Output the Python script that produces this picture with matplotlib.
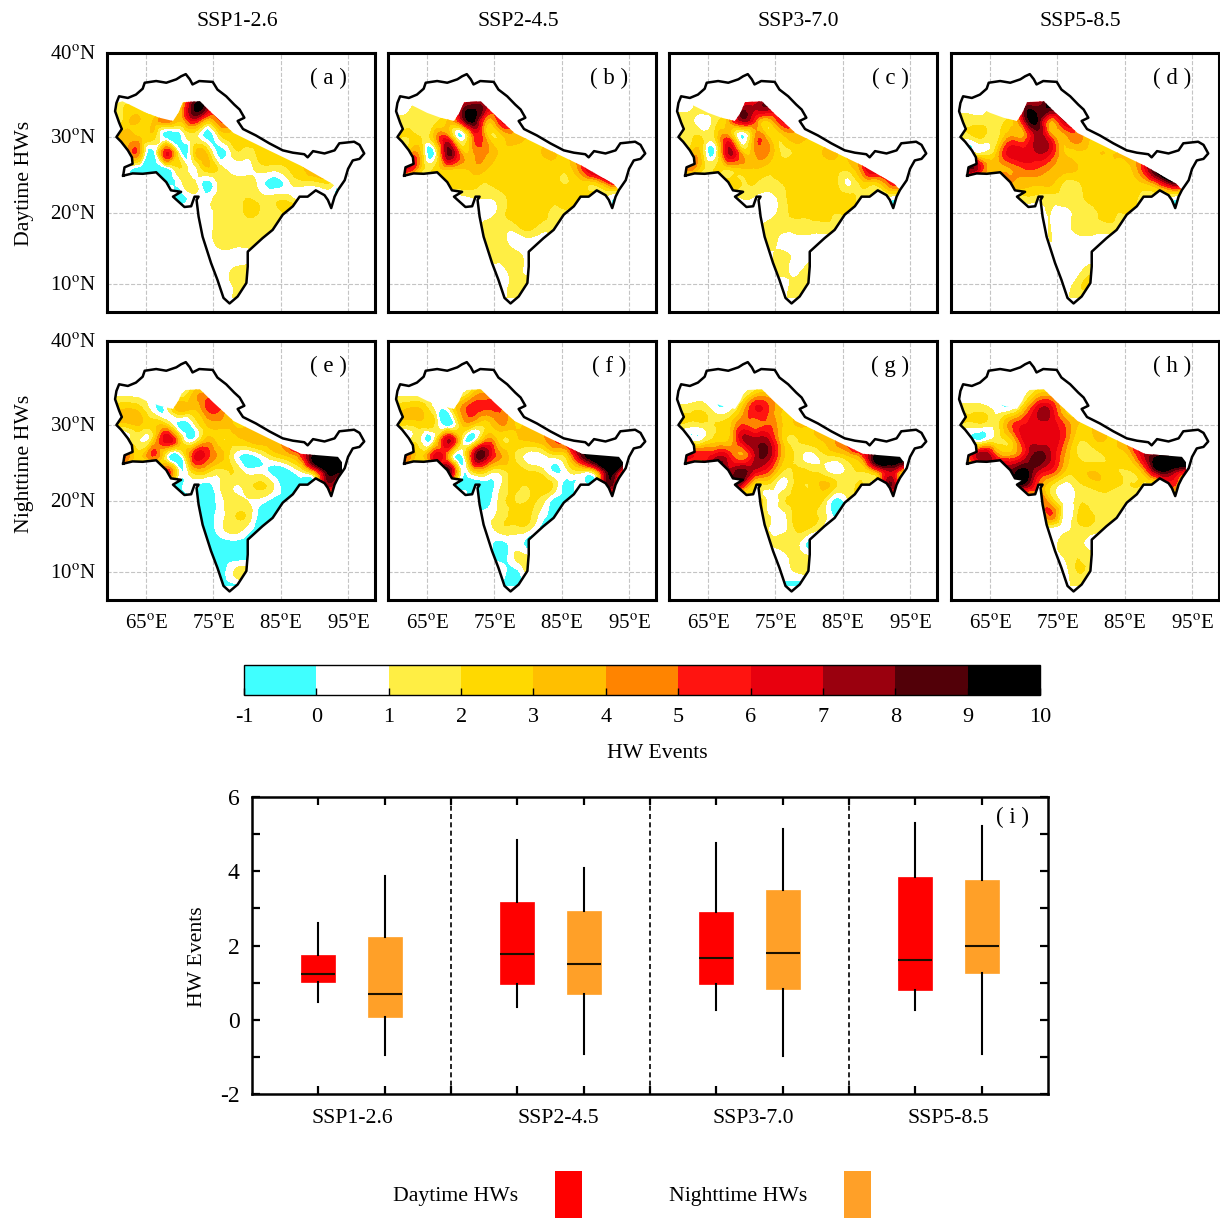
import numpy as np
import matplotlib
matplotlib.use("Agg")
import matplotlib.pyplot as plt
import matplotlib.tri as mtri
from matplotlib.colors import ListedColormap, BoundaryNorm
from matplotlib.cm import ScalarMappable
from matplotlib.patches import Polygon, Rectangle

plt.rcParams['font.family'] = 'Liberation Serif'
plt.rcParams['mathtext.fontset'] = 'stix'
plt.rcParams['axes.unicode_minus'] = False

W = 1220
H = 1218

scenarios = ["SSP1-2.6", "SSP2-4.5", "SSP3-7.0", "SSP5-8.5"]
letters = ["a", "b", "c", "d", "e", "f", "g", "h"]
level_colors = ["#40FFFF", "#FFFFFF", "#FFEE44", "#FFD900", "#FFBF00", "#FF8400",
                "#FF1410", "#E8000E", "#9A000E", "#520008", "#000000"]
levels = [-1, 0, 1, 2, 3, 4, 5, 6, 7, 8, 9, 10]

# region outline
outline_lon = [61.6, 61.8, 63.0, 62.9, 62.3, 61.3, 60.6, 61.4, 61.0, 60.4, 60.6, 61.0, 62.3, 63.5, 64.5, 64.8,
               66.5, 68.0, 69.5, 70.2, 70.9, 71.5, 71.9, 72.9, 74.9, 75.6, 76.9, 78.1, 78.9, 79.6, 78.6, 79.4,
               81.3, 83.3, 85.3, 86.8, 88.5, 89.0, 89.8, 91.5, 93.0, 93.7, 95.9, 96.7, 97.4, 96.7, 95.7, 95.0,
               94.5, 93.5, 93.0, 92.5, 92.0, 91.5, 90.2, 89.0, 87.8, 86.8, 85.3, 83.8, 82.3, 80.1, 80.1, 79.9,
               78.6, 77.4, 76.5, 75.6, 74.65, 73.4, 72.8, 72.5, 72.8, 72.2, 71.7, 70.7, 69.0, 70.2, 68.7, 68.0,
               66.5, 64.5, 63.0, 61.6]
outline_lat = [25.0, 26.1, 26.55, 27.4, 28.3, 29.4, 30.0, 31.0, 31.8, 33.2, 34.2, 35.0, 34.8, 35.2, 35.9, 36.6,
               36.8, 36.6, 37.0, 37.35, 37.6, 37.0, 36.4, 36.8, 36.7, 35.8, 35.0, 34.0, 33.4, 32.4, 32.0, 31.0,
               30.2, 29.2, 28.3, 28.0, 27.8, 27.4, 28.2, 27.9, 28.3, 29.2, 29.4, 29.0, 27.9, 27.2, 27.0, 25.9,
               24.4, 23.1, 22.2, 20.65, 21.75, 22.4, 23.05, 22.2, 22.2, 20.9, 19.75, 17.65, 16.5, 14.6, 12.5, 10.15,
               8.2, 7.2, 8.0, 10.6, 13.0, 16.7, 19.5, 21.75, 22.2, 22.2, 20.9, 20.8, 22.2, 22.85, 23.05, 24.15,
               25.45, 25.25, 25.3, 25.0]

# north limit of the coloured area
edge_day_lon = [60.6, 61.5, 63.3, 65, 67, 69, 69.8, 70.5, 73, 75, 78, 83, 88, 92.7, 93.5]
edge_day_lat = [34.2, 34.4, 33.7, 33, 32.4, 32, 33, 34.3, 34.4, 32.8, 30.5, 28.4, 26.3, 23.9, 23.1]
edge_night_lon = [60.6, 61.5, 63.3, 65, 67, 69, 69.8, 70.5, 73, 75, 78, 83, 88, 93.5, 94.6, 93.5]
edge_night_lat = [34.2, 34.4, 33.7, 33, 32.4, 32, 33, 34.3, 34.4, 32.8, 30.5, 28.4, 26.3, 25.9, 24.6, 23.1]

# grid nodes of the maps, values below run north to south
grid_lon = [60, 62, 64, 66, 68, 70, 72, 74, 76, 78, 80, 82, 84, 86, 88, 90, 92, 94]
grid_lat = [36, 34, 32, 30, 28, 26, 24, 22, 20, 18, 16, 14, 12, 10, 8]
north = [.5, .5, .5, .5, .5, .5, .5, .5, .5, .5, .5, .5, .5, .5, .5, .5, .5, .5]

day_126 = [north,
    [.5, 2, 1.5, .5, .5, 2, 8.5, 8, 6, 6, .5, .5, .5, .5, .5, .5, .5, .5],
    [.5, 2.5, 3, 3, 4.5, 3, 6, 3, 5, 4, 3, 3, 3, .5, .5, .5, .5, .5],
    [3, 3.5, 3, 2.5, -.5, -.5, 1.5, -.5, 1.5, 2.5, 3, 3, 3, 3, .5, .5, .5, .5],
    [.5, 3, 4, -.5, 6, .5, 2, 2.8, -.5, 1.5, 1.5, 2.5, 2.5, 2.5, 2.5, .5, .5, .5],
    [.5, .5, -.5, -.5, -.3, 2, .5, 2.8, 1.5, .5, .5, 1.5, 1.5, 2, 2.8, 3.5, 3.5, 3.5],
    [.5, .5, -.5, -.5, -.5, .5, 1.5, -.5, 1.5, 1.5, 1.5, .5, -.5, .5, 1.5, 1.5, 2, -.5],
    [.5, .5, .5, .5, .5, -.5, .5, .5, 1.5, 1.5, 2, 1.5, 1.5, 1.5, .5, .5, .5, .5],
    [.5, .5, .5, .5, .5, .5, .5, .5, 1.5, 1.5, 2.2, 1.8, 1.5, 2.5, 2.5, .5, .5, .5],
    [.5, .5, .5, .5, .5, .5, .5, .5, 1.5, 1.5, 1.5, 1.5, 1.5, .5, .5, .5, .5, .5],
    [.5, .5, .5, .5, .5, .5, .5, .5, 1.5, 1.5, 1.5, 1.5, .5, .5, .5, .5, .5, .5],
    [.5, .5, .5, .5, .5, .5, .5, .5, .5, .5, .5, .5, .5, .5, .5, .5, .5, .5],
    [.5, .5, .5, .5, .5, .5, .5, .5, .5, 1.1, 1.5, 1.5, .5, .5, .5, .5, .5, .5],
    [.5, .5, .5, .5, .5, .5, .5, .5, .5, 1.1, 1.5, 1.5, .5, .5, .5, .5, .5, .5],
    [.5, .5, .5, .5, .5, .5, .5, .5, .5, 1.1, 1.5, .5, .5, .5, .5, .5, .5, .5]]

day_245 = [north,
    [.5, .5, 1.5, .5, .5, 6, 8, 7, 6, 6, .5, .5, .5, .5, .5, .5, .5, .5],
    [1.5, 1.5, 1.5, 1.5, 3, 6, 9, 3.5, 6, 5, 3, 3, 3, .5, .5, .5, .5, .5],
    [2, 2, 2, 3, 5, -.2, 5, 3, 2.5, 3.5, 3, 3, 3, 3, .5, .5, .5, .5],
    [.5, 3, 3, -.2, 8, 4, 4, 4, 2.8, 2.5, 2.5, 3, 3, 3, 3, 3, .5, .5],
    [.5, 6, 3, 2, 3.5, 3, 3.5, 3, 2.5, 2.5, 2.5, 2.5, 2.5, 2.5, 5, 8, 8, 8],
    [.5, .5, .5, 2.5, 2.5, 2.5, 2.5, 2, 2.5, 2.5, 2.5, 2.5, 2.3, 2, 2.5, 2.5, 5, 5],
    [.5, .5, .5, .5, .5, .5, 1, 1, 1.5, 2.5, 2.5, 2.5, 2.5, 2.5, 2.5, 2.5, .5, .5],
    [.5, .5, .5, .5, .5, .5, .5, .5, 1.5, 2.5, 2.5, 2.5, 1.5, 1.5, .5, .5, .5, .5],
    [.5, .5, .5, .5, .5, .5, .5, 1.5, 1.5, 1.5, 2.4, 1.5, 1.5, .5, .5, .5, .5, .5],
    [.5, .5, .5, .5, .5, .5, .5, 1.5, 1.5, .5, .5, .5, .5, .5, .5, .5, .5, .5],
    [.5, .5, .5, .5, .5, .5, .5, 1.5, 1.5, 1.5, .5, .5, .5, .5, .5, .5, .5, .5],
    [.5, .5, .5, .5, .5, .5, .5, .5, .5, 1.5, .5, .5, .5, .5, .5, .5, .5, .5],
    [.5, .5, .5, .5, .5, .5, .5, .5, .5, 1.5, 1.5, .5, .5, .5, .5, .5, .5, .5],
    [.5, .5, .5, .5, .5, .5, .5, .5, .5, 1.5, .5, .5, .5, .5, .5, .5, .5, .5]]

day_370 = [north,
    [.5, .5, 1.5, .5, .5, 6, 7, 8, 6, 6, .5, .5, .5, .5, .5, .5, .5, .5],
    [1.5, 1.5, .5, 1.5, 3.5, 7, 5, 3, 6, 5, 3, 3, 3, .5, .5, .5, .5, .5],
    [1.5, 1.5, 2, 2, 4.5, -.2, 4, 3, 2.5, 3.5, 3, 3, 3, 3, .5, .5, .5, .5],
    [.5, 2.5, 2.5, 0, 7, 3.5, 4, 4, 1.8, 2.2, 2.5, 3, 3, 3, 3, 3, .5, .5],
    [.5, 4.5, 2.5, 2, 2.5, 3, 3, 2.5, 2.5, 2.5, 2.5, 2.5, 2.5, 2.5, 5, 7, 3, 3],
    [.5, .5, .5, 2, 2.5, 2, 2, 1.6, 2, 2.5, 2.5, 2.5, 2.2, .8, 2.5, 2.5, 5, 5],
    [.5, .5, .5, .5, .5, 1, .8, .5, 1.5, 2.5, 2.5, 2.5, 2.5, 2.5, 1.5, 1.5, .5, .5],
    [.5, .5, .5, .5, .5, .5, .5, .5, 1.5, 2.2, 2.2, 2.5, 2, 2, .5, .5, .5, .5],
    [.5, .5, .5, .5, .5, .5, .5, 1.5, 1.5, 1.5, 1.5, 1.5, 1.5, .5, .5, .5, .5, .5],
    [.5, .5, .5, .5, .5, .5, .5, 1.5, .5, .5, .5, .5, .5, .5, .5, .5, .5, .5],
    [.5, .5, .5, .5, .5, .5, .5, .5, 1.5, .5, .5, .5, .5, .5, .5, .5, .5, .5],
    [.5, .5, .5, .5, .5, .5, .5, .5, 1.5, .5, 1.5, .5, .5, .5, .5, .5, .5, .5],
    [.5, .5, .5, .5, .5, .5, .5, .5, .5, 1.5, 1.5, .5, .5, .5, .5, .5, .5, .5],
    [.5, .5, .5, .5, .5, .5, .5, .5, .5, 1.5, .5, .5, .5, .5, .5, .5, .5, .5]]

day_585 = [north,
    [.5, .5, .5, .5, .5, 7, 7.5, 9.5, 9, 7, .5, .5, .5, .5, .5, .5, .5, .5],
    [1.5, 1.5, 1.5, 1.5, 2.5, 6.5, 9, 4, 7, 5, 3, 3, 3, .5, .5, .5, .5, .5],
    [1.5, 1.5, 2, 1.5, 4, 4, 7.5, 5, 3.5, 4.5, 3, 3, 3, 3, .5, .5, .5, .5],
    [.5, 1, 1, 3, 6.5, 6.5, 7, 6, 3, 2.8, 2.8, 3, 3, 3.5, 3.5, 3.5, .5, .5],
    [.5, 8, 5, 3.5, 4, 5, 5, 4, 3.5, 3, 2.5, 2.5, 2.5, 3, 6, 9.8, 9.8, 9.8],
    [.5, .5, .5, 4, 4, 3.5, 3.2, 3.2, 1.8, 1.8, 2.5, 2.5, 2.5, 2.5, 3, 5, 8, 8],
    [.5, .5, .5, .5, .5, 1.5, 1.5, 1.5, 1.5, 1.5, 2.5, 2.5, 2.5, 2.5, 1.5, 1.5, .5, .5],
    [.5, .5, .5, .5, .5, .5, .5, 1, .5, 1.5, 1.5, 2.5, 2, 2, .5, .5, .5, .5],
    [.5, .5, .5, .5, .5, .5, .5, 1, .5, 1.5, 1.5, 1.5, 1.5, .5, .5, .5, .5, .5],
    [.5, .5, .5, .5, .5, .5, .5, 1, .5, .5, .5, .5, .5, .5, .5, .5, .5, .5],
    [.5, .5, .5, .5, .5, .5, .5, .5, 1, .5, .5, .5, .5, .5, .5, .5, .5, .5],
    [.5, .5, .5, .5, .5, .5, .5, .5, .5, .5, 1.5, .5, .5, .5, .5, .5, .5, .5],
    [.5, .5, .5, .5, .5, .5, .5, .5, .5, 1.5, 2.2, .5, .5, .5, .5, .5, .5, .5],
    [.5, .5, .5, .5, .5, .5, .5, .5, .5, 1.5, .5, .5, .5, .5, .5, .5, .5, .5]]

night_126 = [north,
    [.5, .5, .5, .5, .5, .5, 3, 4, 5, 5, .5, .5, .5, .5, .5, .5, .5, .5],
    [3, 3, 2.5, .5, .5, 3.5, 3, 5, 5, 3.5, 3, 3, 3, .5, .5, .5, .5, .5],
    [2.5, 2.5, 3, 2.5, 2.5, -.5, .5, 3, 3.5, 3, 3, 3, 3, 3, .5, .5, .5, .5],
    [.5, 1, 1, 2.5, 6.5, 3, .5, 3.5, 2.2, 2.5, 3, 3.5, 3.5, 5, 5, .5, .5, .5],
    [5, 5, 2.5, 5, 1, -.5, 5.5, 5.5, 3.5, 1, -.5, .5, 2, 3, 5, 9.5, 9.8, 9.8],
    [.5, .5, .5, -.5, 5.5, .5, 2.5, 2.5, 1.5, 2, .5, .5, -.5, -.5, 1, 4, 9.5, 9],
    [.5, .5, .5, .5, -.5, -.5, .5, -.5, 1, 1, 1.5, 2.2, 1, -.5, -.5, -.5, 7, .5],
    [.5, .5, .5, .5, .5, -.5, -.5, -.5, .5, 1.5, 1, .5, -.5, -.5, -.5, -.5, .5, .5],
    [.5, .5, .5, .5, .5, .5, -.5, -.5, .5, 1.8, 1.8, -.5, -.5, -.5, .5, .5, .5, .5],
    [.5, .5, .5, .5, .5, .5, -.5, -.5, .5, 1.5, .5, -.5, -.5, .5, .5, .5, .5, .5],
    [.5, .5, .5, .5, .5, .5, .5, -.5, -.5, -.5, -.5, -.5, .5, .5, .5, .5, .5, .5],
    [.5, .5, .5, .5, .5, .5, .5, -.5, -.5, -.5, -.5, -.5, .5, .5, .5, .5, .5, .5],
    [.5, .5, .5, .5, .5, .5, .5, -.5, -.5, 1, 1.5, -.5, .5, .5, .5, .5, .5, .5],
    [.5, .5, .5, .5, .5, .5, .5, .5, -.5, -.5, -.5, .5, .5, .5, .5, .5, .5, .5]]

night_245 = [north,
    [.5, .5, .5, .5, .5, .5, 3, 4, 5, 5, .5, .5, .5, .5, .5, .5, .5, .5],
    [3, 3, 3, 1, .5, 4, 5.5, 5, 5, 3.5, 3, 3, 3, .5, .5, .5, .5, .5],
    [2, 2, 2.5, 2, -.5, 2.5, 2.5, 2.5, 4, 3, 3.5, 3.5, 3.5, 3.5, .5, .5, .5, .5],
    [.5, 1, 1, 1, 7, 2, .5, 4.5, 2.2, 2.5, 3, 3.5, 5, 6, 6, .5, .5, .5],
    [5, 5, 2.5, 6, 4, -.5, 7, 7, 4, 2, .5, .5, 1.5, 3, 8, 9.8, 9.8, 9.8],
    [.5, .5, .5, 2, 8.5, 1, 2.5, 2, 1.5, 2.5, 2, 1.5, -.2, 1, 1.5, 3, 9.5, 5],
    [.5, .5, .5, .5, -.5, -.5, -.5, -.5, 1, 2.2, 2, 2.7, 1.5, -.5, .5, 1, 8, .5],
    [.5, .5, .5, .5, .5, .5, -.5, -.5, 1.5, 2, 2, 1.5, -.5, -.5, -.5, .5, .5, .5],
    [.5, .5, .5, .5, .5, .5, .5, .5, 1.5, 2.3, 2.3, .5, -.5, -.5, .5, .5, .5, .5],
    [.5, .5, .5, .5, .5, .5, .5, .5, 1.5, 1.5, 1.2, -.5, -.5, .5, .5, .5, .5, .5],
    [.5, .5, .5, .5, .5, .5, .5, .5, -.5, .5, -.5, -.5, .5, .5, .5, .5, .5, .5],
    [.5, .5, .5, .5, .5, .5, .5, .5, -.5, 1, 1.5, 1.5, .5, .5, .5, .5, .5, .5],
    [.5, .5, .5, .5, .5, .5, .5, .5, .5, -.5, 1.5, 1.5, .5, .5, .5, .5, .5, .5],
    [.5, .5, .5, .5, .5, .5, .5, .5, -.5, -.5, .5, .5, .5, .5, .5, .5, .5, .5]]

night_370 = [north,
    [.5, .5, .5, .5, .5, .5, 2.5, 3, 3, 3, .5, .5, .5, .5, .5, .5, .5, .5],
    [1.5, 1.5, 1.8, .5, .5, 3, 6, 5, 3, 3, 3, 3, 3, .5, .5, .5, .5, .5],
    [1.5, 1.5, 1.5, 2, 2.5, 5, 4.5, 5, 3, 3, 3, 3, 3, 3, .5, .5, .5, .5],
    [.5, 1, 1, 2.5, 3, 6.5, 7.5, 7, 3, 1.8, 2.5, 3, 4, 6, 6, .5, .5, .5],
    [6.5, 6.5, 5.5, 6.5, 6, 4, 7, 7.5, 3.5, 1.8, .5, 1.5, 2, 3, 5, 9.8, 9.8, 9.8],
    [.5, .5, .5, 6, 7, 8.5, 6.5, 5, 2, 2.2, 2, 1.5, .5, 1.5, 2, 4, 7, 3],
    [.5, .5, .5, .5, 6, 6, 2, 1.5, .5, 2.2, 2, 3.2, 2, 1.5, 2, 2, 8, .5],
    [.5, .5, .5, .5, .5, .5, 3, .5, 1.5, 2.5, 2.5, 2, -.5, 1, 1, .5, .5, .5],
    [.5, .5, .5, .5, .5, .5, .5, 1, .5, 2.5, 2.5, 1.5, -.5, -.5, .5, .5, .5, .5],
    [.5, .5, .5, .5, .5, .5, .5, 1, .5, 2, 1.8, .5, -.5, .5, .5, .5, .5, .5],
    [.5, .5, .5, .5, .5, .5, .5, 1, 1.5, 1.5, -.5, -.5, .5, .5, .5, .5, .5, .5],
    [.5, .5, .5, .5, .5, .5, .5, .5, .5, 1.5, 1.5, 1.5, .5, .5, .5, .5, .5, .5],
    [.5, .5, .5, .5, .5, .5, .5, .5, .5, 1, 1.5, 1.5, .5, .5, .5, .5, .5, .5],
    [.5, .5, .5, .5, .5, .5, .5, .5, -.5, -.5, -.5, .5, .5, .5, .5, .5, .5, .5]]

night_585 = [north,
    [.5, .5, .5, .5, .5, .5, 2.5, 3, 3, 3, .5, .5, .5, .5, .5, .5, .5, .5],
    [1.5, 1.5, 1.5, .5, .5, 3, 6.5, 6.5, 3, 3, 3, 3, 3, .5, .5, .5, .5, .5],
    [1.5, 1.5, 1.5, 1.5, 4.5, 6, 6.5, 6.5, 5, 3, 3, 3, 3, 3, .5, .5, .5, .5],
    [.5, .5, .5, 1.5, 2.5, 6, 6.5, 6.5, 5, 2.2, 2.5, 3, 3, 5, 5, .5, .5, .5],
    [5, 5, 8, 5, 4, 6, 8.5, 7, 4, 2, 1.5, 2, 2.5, 3.5, 7, 9, 9.8, 9.8],
    [.5, .5, .5, 6, 8, 9.5, 7, 5.5, 3, 2.5, 3, 2.5, 2, 2, 4, 8.5, 8, 6],
    [.5, .5, .5, .5, 6, 8, 5, 2, .5, 1.5, 2.2, 2.5, 2, 2, 1.5, 1.5, 5, .5],
    [.5, .5, .5, .5, .5, .5, 4, 3, .5, 1.5, 1.5, 1.5, 1.5, 1.5, .5, .5, .5, .5],
    [.5, .5, .5, .5, .5, .5, .5, 5, .5, 2, 2.2, 1.5, 1, 1, .5, .5, .5, .5],
    [.5, .5, .5, .5, .5, .5, .5, .5, .5, 1.5, 1.5, 1, .5, .5, .5, .5, .5, .5],
    [.5, .5, .5, .5, .5, .5, .5, .5, 1.5, 1.5, .5, .5, .5, .5, .5, .5, .5, .5],
    [.5, .5, .5, .5, .5, .5, .5, .5, 1, 2, 1.5, 1.5, .5, .5, .5, .5, .5, .5],
    [.5, .5, .5, .5, .5, .5, .5, .5, .5, 2, 1.5, 1.5, .5, .5, .5, .5, .5, .5],
    [.5, .5, .5, .5, .5, .5, .5, .5, .5, 1.5, 1.5, .5, .5, .5, .5, .5, .5, .5]]

panels = [day_126, day_245, day_370, day_585, night_126, night_245, night_370, night_585]

# box plot values, per scenario
day_low = [0.48, 0.33, 0.27, 0.27]
day_q1 = [1.02, 0.95, 0.97, 0.80]
day_med = [1.23, 1.78, 1.66, 1.60]
day_q3 = [1.75, 3.17, 2.90, 3.85]
day_high = [2.60, 4.85, 4.75, 5.30]
night_low = [-0.95, -0.92, -0.97, -0.92]
night_q1 = [0.08, 0.70, 0.83, 1.25]
night_med = [0.69, 1.50, 1.79, 1.99]
night_q3 = [2.23, 2.92, 3.50, 3.76]
night_high = [3.87, 4.10, 5.13, 5.22]


def axes_px(l, t, r, b):
    return fig.add_axes([l/W, 1-b/H, (r-l)/W, (b-t)/H])


def merc(lat):
    return np.log(np.tan(np.pi/4 + np.radians(lat)/2))


def merc_inv(y):
    return np.degrees(2*np.arctan(np.exp(y)) - np.pi/2)


fig = plt.figure(figsize=(W/100, H/100), dpi=100)
cmap = ListedColormap(level_colors)
norm = BoundaryNorm(levels, cmap.N)

outline = np.column_stack([outline_lon, outline_lat])
glon, glat = np.meshgrid(grid_lon, grid_lat)
triang = mtri.Triangulation(glon.ravel(), glat.ravel())
refiner = mtri.UniformTriRefiner(triang)

lefts = [107, 388, 669, 951]
tops = [53, 341]
for i in range(8):
    row = i // 4
    col = i % 4
    ax = axes_px(lefts[col], tops[row], lefts[col]+268, tops[row]+259)
    ax.set_yscale('function', functions=(merc, merc_inv))

    # white land hides the grid, colours stay south of the mountain edge
    ax.add_patch(Polygon(outline, closed=True, fc='white', ec='none', zorder=2))
    tri_fine, z_fine = refiner.refine_field(np.array(panels[i], dtype=float).ravel(), subdiv=3)
    z_fine = np.clip(z_fine, -0.99, 9.99)
    cs = ax.tricontourf(tri_fine, z_fine, levels=levels, cmap=cmap, norm=norm, zorder=3)
    if row == 0:
        edge = np.column_stack([edge_day_lon, edge_day_lat])
    else:
        edge = np.column_stack([edge_night_lon, edge_night_lat])
    south = np.vstack([outline[50:], outline[:10]])
    clip = Polygon(np.vstack([south, edge]), closed=True, fc='none', ec='none', transform=ax.transData)
    ax.add_patch(clip)
    cs.set_clip_path(clip)
    ax.plot(outline_lon, outline_lat, color='k', lw=1.8, zorder=5)

    ax.set_xlim(59.2, 99.0)
    ax.set_ylim(5.96, 40)
    ax.set_xticks([65, 75, 85, 95])
    ax.set_yticks([10, 20, 30, 40])
    ax.yaxis.set_minor_locator(matplotlib.ticker.NullLocator())
    ax.grid(True, color='#C4C4C4', ls='--', lw=0.8)
    ax.set_axisbelow(True)
    if col == 0:
        ax.set_yticklabels(["%d$^{\\mathrm{o}}$N" % v for v in [10, 20, 30, 40]], fontsize=15)
    else:
        ax.set_yticklabels([])
    if row == 1:
        ax.set_xticklabels(["%d$^{\\mathrm{o}}$E" % v for v in [65, 75, 85, 95]], fontsize=15)
    else:
        ax.set_xticklabels([])
    ax.tick_params(axis='y', length=0, pad=8)
    ax.tick_params(axis='x', length=0, pad=11)
    for s in ax.spines.values():
        s.set_linewidth(2.2)
        s.set_zorder(7)
    ax.text(0.825, 0.90, "( %s )" % letters[i], transform=ax.transAxes, ha='center', va='center', fontsize=16.5)

for k, name in enumerate(scenarios):
    fig.text([237, 518, 798, 1080][k]/W, 1-22/H, name, ha='center', va='center', fontsize=15.7)
fig.text(25/W, 1-183/H, "Daytime HWs", rotation=90, ha='center', va='center', fontsize=15.7)
fig.text(24/W, 1-464/H, "Nighttime HWs", rotation=90, ha='center', va='center', fontsize=15.7)

# colour bar
cax = axes_px(244, 665, 1040, 695)
cb = fig.colorbar(ScalarMappable(norm=norm, cmap=cmap), cax=cax, orientation='horizontal', ticks=levels,
                  spacing='proportional')
cb.ax.tick_params(direction='in', length=5, width=1, labelsize=16, pad=9)
cb.outline.set_linewidth(1)
cb.minorticks_off()
fig.text(657/W, 1-754/H, "HW Events", ha='center', va='center', fontsize=15.7)

# box plot
ax = axes_px(252, 797, 1048, 1094)
stats_day = []
stats_night = []
for k in range(4):
    stats_day.append(dict(med=day_med[k], q1=day_q1[k], q3=day_q3[k], whislo=day_low[k], whishi=day_high[k], fliers=[]))
    stats_night.append(dict(med=night_med[k], q1=night_q1[k], q3=night_q3[k], whislo=night_low[k], whishi=night_high[k], fliers=[]))
pos_day = [k + 1/3 for k in range(4)]
pos_night = [k + 2/3 for k in range(4)]
for stats, pos, color in [(stats_day, pos_day, '#FF0000'), (stats_night, pos_night, '#FFA028')]:
    ax.bxp(stats, positions=pos, widths=0.172, patch_artist=True, showcaps=False, showfliers=False,
           boxprops=dict(facecolor=color, edgecolor=color, lw=0.5),
           medianprops=dict(color='#1a1000', lw=1.5),
           whiskerprops=dict(color='k', lw=1.5), manage_ticks=False)
for x in [1, 2, 3]:
    ax.axvline(x, color='k', ls='--', lw=1.2, dashes=(3, 2))
ax.set_xlim(0, 4)
ax.set_ylim(-2, 6)
ax.set_xticks(pos_day + pos_night + [1, 2, 3])
ax.set_xticklabels([])
ax.set_yticks([-2, 0, 2, 4, 6])
ax.set_yticks([-1, 1, 3, 5], minor=True)
ax.tick_params(axis='both', which='both', direction='in', length=6, width=1.6, top=True, right=True, labelsize=17, pad=9)
for s in ax.spines.values():
    s.set_linewidth(1.8)
label_x = [0.505, 1.54, 2.52, 3.5]
for k, name in enumerate(scenarios):
    ax.text(label_x[k], -2.66, name, ha='center', va='center', fontsize=15.7)
ax.text(3.82, 5.45, "( i )", ha='center', va='center', fontsize=16.5)
fig.text(198/W, 1-957/H, "HW Events", rotation=90, ha='center', va='center', fontsize=15.7)

# legend
fig.text(456/W, 1-1196/H, "Daytime HWs", ha='center', va='center', fontsize=15.7)
fig.text(738/W, 1-1196/H, "Nighttime HWs", ha='center', va='center', fontsize=15.7)
fig.add_artist(Rectangle((555/W, 0), 27/W, 47/H, transform=fig.transFigure, fc='#FF0000', ec='none'))
fig.add_artist(Rectangle((844/W, 0), 27/W, 47/H, transform=fig.transFigure, fc='#FFA028', ec='none'))

plt.savefig("out.png", dpi=100)
